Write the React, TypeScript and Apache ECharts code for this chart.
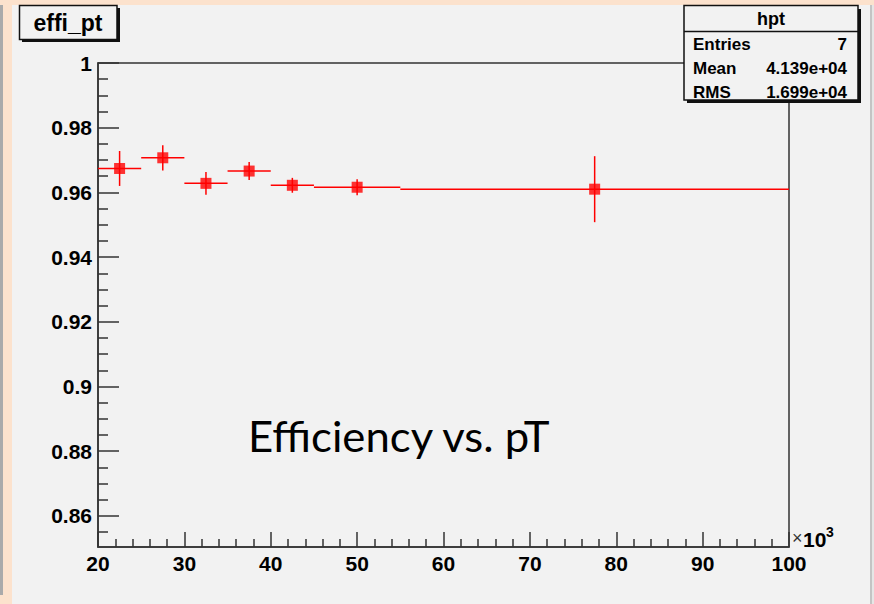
import React, { useEffect, useRef } from "react";
import * as echarts from "echarts";

const binLow = [20, 25, 30, 35, 40, 45, 55];
const binHigh = [25, 30, 35, 40, 45, 55, 100];
const binCenter = [22.5, 27.5, 32.5, 37.5, 42.5, 50, 77.5];
const efficiency = [0.9674, 0.9707, 0.9628, 0.9666, 0.9622, 0.9616, 0.961];
const effError = [0.0054, 0.0039, 0.0035, 0.0028, 0.0023, 0.0025, 0.0102];

const yMajorTicks = [0.86, 0.88, 0.9, 0.92, 0.94, 0.96, 0.98, 1.0];
const yMinorTicks = [
  0.855, 0.865, 0.87, 0.875, 0.885, 0.89, 0.895, 0.905, 0.91, 0.915, 0.925, 0.93, 0.935,
  0.945, 0.95, 0.955, 0.965, 0.97, 0.975, 0.985, 0.99, 0.995,
];

const statsTitle = "hpt";
const statsNames = ["Entries", "Mean", "RMS"];
const statsValues = ["7", "4.139e+04", "1.699e+04"];

const FONT = "'Liberation Sans', Arial, sans-serif";
const AXIS = "#333333";
const BG = "#f2f2f2";
const PEACH = "#fce2cd";

export default function App() {
  const ref = useRef<HTMLDivElement>(null);

  useEffect(() => {
    if (!ref.current) return;
    const chart = echarts.init(ref.current, null, { renderer: "svg" });

    const errData = binCenter.map((c, i) => [binLow[i], binHigh[i], c, efficiency[i], effError[i]]);
    const pointData = binCenter.map((c, i) => [c, efficiency[i]]);

    const statsRows: any[] = [];
    statsNames.forEach((n, i) => {
      const y = 44 + i * 24;
      statsRows.push({
        type: "text",
        x: 693,
        y,
        style: { text: n, font: `bold 17px ${FONT}`, fill: "#000", textVerticalAlign: "middle", textAlign: "left" },
        z: 102,
      });
      statsRows.push({
        type: "text",
        x: 847,
        y,
        style: { text: statsValues[i], font: `bold 17px ${FONT}`, fill: "#000", textVerticalAlign: "middle", textAlign: "right" },
        z: 102,
      });
    });

    chart.setOption({
      animation: false,
      backgroundColor: "transparent",
      grid: {
        left: 98,
        top: 63,
        right: 85,
        bottom: 57,
        show: true,
        borderColor: AXIS,
        borderWidth: 1.5,
        backgroundColor: "transparent",
      },
      xAxis: {
        type: "value",
        min: 20,
        max: 100,
        interval: 10,
        axisLine: { show: true, lineStyle: { color: AXIS, width: 1.5 } },
        axisTick: { show: true, inside: true, length: 15, lineStyle: { color: AXIS, width: 1.5 } },
        minorTick: { show: true, splitNumber: 5, length: 8, lineStyle: { color: AXIS, width: 1.5 } },
        splitLine: { show: false },
        minorSplitLine: { show: false },
        axisLabel: { margin: 6, color: "#000", fontFamily: FONT, fontWeight: "bold", fontSize: 21 },
      },
      yAxis: [
        {
          type: "value",
          min: 0.8504,
          max: 1.0,
          position: "left",
          axisLine: { show: true, lineStyle: { color: AXIS, width: 1.5 } },
          axisTick: { show: true, inside: true, length: 21, customValues: yMajorTicks, lineStyle: { color: AXIS, width: 1.5 } },
          splitLine: { show: false },
          axisLabel: {
            margin: 6,
            customValues: yMajorTicks,
            color: "#000",
            fontFamily: FONT,
            fontWeight: "bold",
            fontSize: 21,
            formatter: (v: number) => String(parseFloat(v.toFixed(2))),
          },
        },
        {
          type: "value",
          min: 0.8504,
          max: 1.0,
          position: "left",
          axisLine: { show: false },
          axisTick: { show: true, inside: true, length: 10, customValues: yMinorTicks, lineStyle: { color: AXIS, width: 1.5 } },
          splitLine: { show: false },
          axisLabel: { show: false },
        },
      ],
      series: [
        {
          type: "custom",
          yAxisIndex: 0,
          data: errData,
          renderItem: (params: any, api: any) => {
            const lo = api.value(0);
            const hi = api.value(1);
            const c = api.value(2);
            const v = api.value(3);
            const e = api.value(4);
            const p1 = api.coord([lo, v]);
            const p2 = api.coord([hi, v]);
            const q1 = api.coord([c, v - e]);
            const q2 = api.coord([c, v + e]);
            return {
              type: "group",
              children: [
                { type: "line", shape: { x1: p1[0], y1: p1[1], x2: p2[0], y2: p2[1] }, style: { stroke: "#ff0000", lineWidth: 1.5 } },
                { type: "line", shape: { x1: q1[0], y1: q1[1], x2: q2[0], y2: q2[1] }, style: { stroke: "#ff0000", lineWidth: 1.5 } },
              ],
            };
          },
          z: 3,
        },
        {
          type: "scatter",
          yAxisIndex: 0,
          data: pointData,
          symbol: "rect",
          symbolSize: 11,
          itemStyle: { color: "#ff0000" },
          z: 4,
        },
      ],
      graphic: [
        // page edges
        { type: "rect", shape: { x: 0, y: 0, width: 874, height: 5 }, style: { fill: PEACH }, z: 100 },
        { type: "rect", shape: { x: 3, y: 5, width: 9, height: 599 }, style: { fill: PEACH }, z: 100 },
        { type: "rect", shape: { x: 0, y: 5, width: 3, height: 590 }, style: { fill: "#aaaaaa" }, z: 100 },
        { type: "rect", shape: { x: 0, y: 595, width: 3, height: 9 }, style: { fill: PEACH }, z: 100 },
        { type: "rect", shape: { x: 870, y: 5, width: 2, height: 599 }, style: { fill: "#c4c4c4" }, z: 100 },
        { type: "rect", shape: { x: 872, y: 5, width: 2, height: 599 }, style: { fill: "#e6e6e6" }, z: 100 },
        // title box
        { type: "rect", shape: { x: 22, y: 8, width: 98, height: 34 }, style: { fill: "#111" }, z: 100 },
        { type: "rect", shape: { x: 19.5, y: 5.5, width: 97.5, height: 34 }, style: { fill: BG, stroke: "#111", lineWidth: 1.5 }, z: 101 },
        {
          type: "text",
          x: 68,
          y: 23,
          style: { text: "effi_pt", font: `bold 23px ${FONT}`, fill: "#000", textAlign: "center", textVerticalAlign: "middle" },
          z: 102,
        },
        // stats box
        { type: "rect", shape: { x: 687, y: 9, width: 174, height: 94 }, style: { fill: "#111" }, z: 100 },
        { type: "rect", shape: { x: 684, y: 5.5, width: 174, height: 94.5 }, style: { fill: BG, stroke: "#111", lineWidth: 1.5 }, z: 101 },
        { type: "line", shape: { x1: 684, y1: 31.5, x2: 858, y2: 31.5 }, style: { stroke: "#111", lineWidth: 1.5 }, z: 102 },
        {
          type: "text",
          x: 771,
          y: 19,
          style: { text: statsTitle, font: `bold 18px ${FONT}`, fill: "#000", textAlign: "center", textVerticalAlign: "middle" },
          z: 102,
        },
        ...statsRows,
        // x10^3
        { type: "text", x: 792, y: 547, style: { text: "×", font: `18px ${FONT}`, fill: "#333", textAlign: "left", textVerticalAlign: "bottom" }, z: 102 },
        { type: "text", x: 803, y: 550, style: { text: "10", font: `bold 21px ${FONT}`, fill: "#000", textAlign: "left", textVerticalAlign: "bottom" }, z: 102 },
        { type: "text", x: 826, y: 539, style: { text: "3", font: `bold 14px ${FONT}`, fill: "#000", textAlign: "left", textVerticalAlign: "bottom" }, z: 102 },
        // annotation
        {
          type: "text",
          x: 248,
          y: 436,
          scaleX: 1.04,
          style: { text: "Efficiency vs. pT", font: `42px Lato, 'Open Sans', sans-serif`, fill: "#000", textAlign: "left", textVerticalAlign: "middle" },
          z: 102,
        },
      ],
    });

    return () => chart.dispose();
  }, []);

  return (
    <div
      ref={ref}
      style={{ position: "absolute", left: 0, top: 0, width: 874, height: 604, background: BG }}
    />
  );
}
